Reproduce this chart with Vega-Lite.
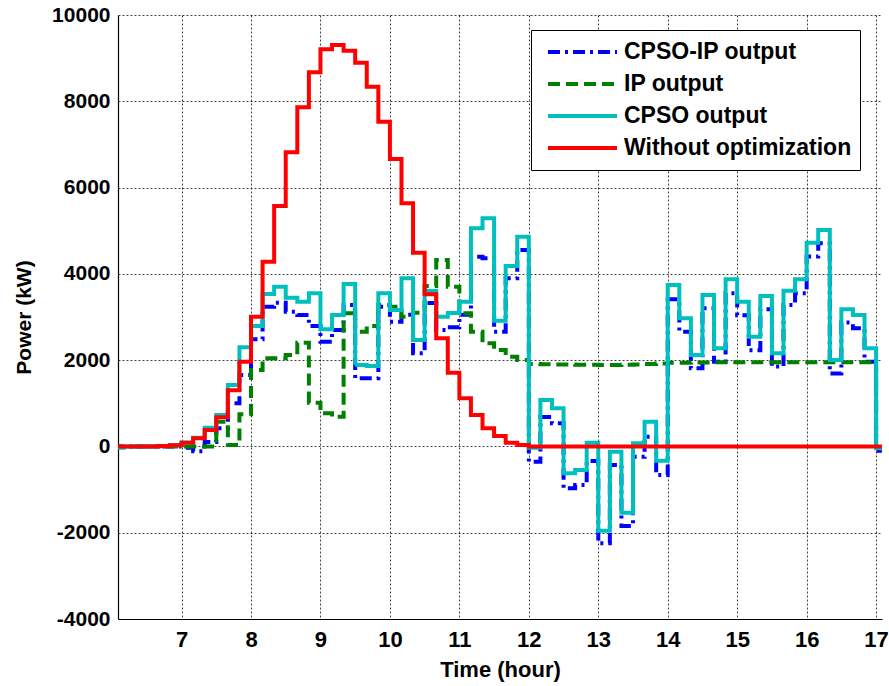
{
  "$schema": "https://vega.github.io/schema/vega-lite/v6.json",
  "width": 764,
  "height": 604,
  "autosize": {"type": "none"},
  "padding": {"left": 118, "top": 15, "right": 7, "bottom": 67},
  "background": "white",
  "data": {"values": [
    {"t": 6, "CPSO-IP output": 0, "IP output": 0, "CPSO output": -30, "Without optimization": 0},
    {"t": 6.1667, "CPSO-IP output": 0, "IP output": 0, "CPSO output": 0, "Without optimization": 0},
    {"t": 6.3333, "CPSO-IP output": 0, "IP output": 0, "CPSO output": 0, "Without optimization": 0},
    {"t": 6.5, "CPSO-IP output": 0, "IP output": 0, "CPSO output": 0, "Without optimization": 0},
    {"t": 6.6667, "CPSO-IP output": 0, "IP output": 0, "CPSO output": 10, "Without optimization": 10},
    {"t": 6.8333, "CPSO-IP output": 0, "IP output": 0, "CPSO output": 30, "Without optimization": 30},
    {"t": 7, "CPSO-IP output": -30, "IP output": 0, "CPSO output": 90, "Without optimization": 85},
    {"t": 7.1667, "CPSO-IP output": -110, "IP output": 0, "CPSO output": 200, "Without optimization": 190},
    {"t": 7.3333, "CPSO-IP output": 100, "IP output": 0, "CPSO output": 434, "Without optimization": 380},
    {"t": 7.5, "CPSO-IP output": 420, "IP output": 573, "CPSO output": 728, "Without optimization": 675},
    {"t": 7.6667, "CPSO-IP output": 1000, "IP output": 32, "CPSO output": 1423, "Without optimization": 1300},
    {"t": 7.8333, "CPSO-IP output": 1655, "IP output": 744, "CPSO output": 2297, "Without optimization": 1964},
    {"t": 8, "CPSO-IP output": 2482, "IP output": 1771, "CPSO output": 2791, "Without optimization": 3007},
    {"t": 8.1667, "CPSO-IP output": 3239, "IP output": 2042, "CPSO output": 3533, "Without optimization": 4281},
    {"t": 8.3333, "CPSO-IP output": 3332, "IP output": 2042, "CPSO output": 3703, "Without optimization": 5572},
    {"t": 8.5, "CPSO-IP output": 3123, "IP output": 2119, "CPSO output": 3448, "Without optimization": 6817},
    {"t": 8.6667, "CPSO-IP output": 3046, "IP output": 2404, "CPSO output": 3354, "Without optimization": 7860},
    {"t": 8.8333, "CPSO-IP output": 2791, "IP output": 1013, "CPSO output": 3549, "Without optimization": 8671},
    {"t": 9, "CPSO-IP output": 2427, "IP output": 767, "CPSO output": 2714, "Without optimization": 9204},
    {"t": 9.1667, "CPSO-IP output": 2698, "IP output": 688, "CPSO output": 3046, "Without optimization": 9304},
    {"t": 9.3333, "CPSO-IP output": 3278, "IP output": 3085, "CPSO output": 3765, "Without optimization": 9172},
    {"t": 9.5, "CPSO-IP output": 1578, "IP output": 2659, "CPSO output": 1887, "Without optimization": 8894},
    {"t": 9.6667, "CPSO-IP output": 1578, "IP output": 2791, "CPSO output": 1864, "Without optimization": 8338},
    {"t": 9.8333, "CPSO-IP output": 3239, "IP output": 3278, "CPSO output": 3549, "Without optimization": 7527},
    {"t": 10, "CPSO-IP output": 2891, "IP output": 3239, "CPSO output": 3162, "Without optimization": 6662},
    {"t": 10.1667, "CPSO-IP output": 3050, "IP output": 3007, "CPSO output": 3897, "Without optimization": 5635},
    {"t": 10.3333, "CPSO-IP output": 2158, "IP output": 3100, "CPSO output": 2466, "Without optimization": 4490},
    {"t": 10.5, "CPSO-IP output": 3323, "IP output": 3718, "CPSO output": 3600, "Without optimization": 3530},
    {"t": 10.6667, "CPSO-IP output": 2698, "IP output": 4321, "CPSO output": 3007, "Without optimization": 2505},
    {"t": 10.8333, "CPSO-IP output": 2760, "IP output": 3703, "CPSO output": 3090, "Without optimization": 1710},
    {"t": 11, "CPSO-IP output": 3050, "IP output": 3085, "CPSO output": 3354, "Without optimization": 1115},
    {"t": 11.1667, "CPSO-IP output": 4398, "IP output": 2659, "CPSO output": 5056, "Without optimization": 728},
    {"t": 11.3333, "CPSO-IP output": 4360, "IP output": 2390, "CPSO output": 5288, "Without optimization": 420},
    {"t": 11.5, "CPSO-IP output": 2659, "IP output": 2235, "CPSO output": 2914, "Without optimization": 241},
    {"t": 11.6667, "CPSO-IP output": 3897, "IP output": 2080, "CPSO output": 4182, "Without optimization": 86},
    {"t": 11.8333, "CPSO-IP output": 4553, "IP output": 2003, "CPSO output": 4861, "Without optimization": 32},
    {"t": 12, "CPSO-IP output": -354, "IP output": 1910, "CPSO output": -30, "Without optimization": 0},
    {"t": 12.1667, "CPSO-IP output": 680, "IP output": 1905, "CPSO output": 1075, "Without optimization": 0},
    {"t": 12.3333, "CPSO-IP output": 535, "IP output": 1900, "CPSO output": 883, "Without optimization": 0},
    {"t": 12.5, "CPSO-IP output": -972, "IP output": 1900, "CPSO output": -624, "Without optimization": 0},
    {"t": 12.6667, "CPSO-IP output": -895, "IP output": 1895, "CPSO output": -547, "Without optimization": 0},
    {"t": 12.8333, "CPSO-IP output": -340, "IP output": 1895, "CPSO output": 86, "Without optimization": 0},
    {"t": 13, "CPSO-IP output": -2247, "IP output": 1890, "CPSO output": -1954, "Without optimization": 0},
    {"t": 13.1667, "CPSO-IP output": -430, "IP output": 1890, "CPSO output": -122, "Without optimization": 0},
    {"t": 13.3333, "CPSO-IP output": -1845, "IP output": 1895, "CPSO output": -1536, "Without optimization": 0},
    {"t": 13.5, "CPSO-IP output": -240, "IP output": 1900, "CPSO output": 72, "Without optimization": 0},
    {"t": 13.6667, "CPSO-IP output": 225, "IP output": 1910, "CPSO output": 573, "Without optimization": 0},
    {"t": 13.8333, "CPSO-IP output": -663, "IP output": 1920, "CPSO output": -331, "Without optimization": 0},
    {"t": 14, "CPSO-IP output": 3410, "IP output": 1940, "CPSO output": 3741, "Without optimization": 0},
    {"t": 14.1667, "CPSO-IP output": 2660, "IP output": 1940, "CPSO output": 2969, "Without optimization": 0},
    {"t": 14.3333, "CPSO-IP output": 1810, "IP output": 1945, "CPSO output": 2119, "Without optimization": 0},
    {"t": 14.5, "CPSO-IP output": 3200, "IP output": 1945, "CPSO output": 3510, "Without optimization": 0},
    {"t": 14.6667, "CPSO-IP output": 1960, "IP output": 1950, "CPSO output": 2274, "Without optimization": 0},
    {"t": 14.8333, "CPSO-IP output": 3550, "IP output": 1950, "CPSO output": 3873, "Without optimization": 0},
    {"t": 15, "CPSO-IP output": 3040, "IP output": 1950, "CPSO output": 3354, "Without optimization": 0},
    {"t": 15.1667, "CPSO-IP output": 2230, "IP output": 1950, "CPSO output": 2543, "Without optimization": 0},
    {"t": 15.3333, "CPSO-IP output": 3180, "IP output": 1950, "CPSO output": 3486, "Without optimization": 0},
    {"t": 15.5, "CPSO-IP output": 1850, "IP output": 1950, "CPSO output": 2158, "Without optimization": 0},
    {"t": 15.6667, "CPSO-IP output": 3280, "IP output": 1950, "CPSO output": 3609, "Without optimization": 0},
    {"t": 15.8333, "CPSO-IP output": 3550, "IP output": 1950, "CPSO output": 3873, "Without optimization": 0},
    {"t": 16, "CPSO-IP output": 4400, "IP output": 1950, "CPSO output": 4722, "Without optimization": 0},
    {"t": 16.1667, "CPSO-IP output": 4710, "IP output": 1950, "CPSO output": 5016, "Without optimization": 0},
    {"t": 16.3333, "CPSO-IP output": 1690, "IP output": 1950, "CPSO output": 2003, "Without optimization": 0},
    {"t": 16.5, "CPSO-IP output": 2870, "IP output": 1950, "CPSO output": 3178, "Without optimization": 0},
    {"t": 16.6667, "CPSO-IP output": 2740, "IP output": 1950, "CPSO output": 3046, "Without optimization": 0},
    {"t": 16.8333, "CPSO-IP output": 1960, "IP output": 1950, "CPSO output": 2274, "Without optimization": 0},
    {"t": 17, "CPSO-IP output": -100, "IP output": 0, "CPSO output": -44, "Without optimization": 0},
    {"t": 17.0833, "CPSO-IP output": -100, "IP output": 0, "CPSO output": -44, "Without optimization": 0}
  ]},
  "transform": [
    {"fold": ["CPSO-IP output", "IP output", "CPSO output", "Without optimization"], "as": ["series", "power"]}
  ],
  "mark": {"type": "line", "interpolate": "step-after", "strokeWidth": 4, "clip": true},
  "encoding": {
    "x": {
      "field": "t", "type": "quantitative",
      "scale": {"domain": [6.085, 17.085], "nice": false, "zero": false},
      "axis": {"values": [7, 8, 9, 10, 11, 12, 13, 14, 15, 16, 17], "title": "Time (hour)", "labelExpr": "'' + datum.value", "labelPadding": 10, "titlePadding": 9, "labelFontSize": 22, "titleFontSize": 22}
    },
    "y": {
      "field": "power", "type": "quantitative",
      "scale": {"domain": [-4000, 10000], "nice": false},
      "axis": {"values": [-4000, -2000, 0, 2000, 4000, 6000, 8000, 10000], "title": "Power (kW)", "labelExpr": "'' + datum.value", "labelPadding": 8, "titlePadding": 17}
    },
    "color": {
      "field": "series", "type": "nominal",
      "scale": {"domain": ["CPSO-IP output", "IP output", "CPSO output", "Without optimization"], "range": ["#0000FF", "#008000", "#00BFBF", "#FF0000"]},
      "legend": {"title": null}
    },
    "strokeDash": {
      "field": "series", "type": "nominal",
      "scale": {"domain": ["CPSO-IP output", "IP output", "CPSO output", "Without optimization"], "range": [[12, 5, 3, 5], [12, 6], [1, 0], [1, 0]]},
      "legend": {"title": null}
    }
  },
  "config": {
    "view": {"stroke": null},
    "axis": {
      "labelFont": "Liberation Sans", "labelFontSize": 21, "labelFontWeight": "bold", "labelColor": "black",
      "titleFont": "Liberation Sans", "titleFontSize": 21, "titleFontWeight": "bold", "titleColor": "black",
      "domainColor": "black", "domainWidth": 1.2,
      "grid": true, "gridColor": "black", "gridDash": [2, 2], "gridOpacity": 0.75, "gridWidth": 1,
      "ticks": false
    },
    "legend": {
      "orient": "none", "legendX": 413, "legendY": 15,
      "padding": 8, "strokeColor": "black", "fillColor": "white",
      "symbolType": "stroke", "symbolSize": 4761, "symbolStrokeWidth": 4, "symbolOffset": 7,
      "clipHeight": 28,
      "labelFont": "Liberation Sans", "labelFontSize": 23, "labelFontWeight": "bold", "labelColor": "black",
      "labelOffset": 5, "labelLimit": 400, "rowPadding": 4
    }
  }
}
